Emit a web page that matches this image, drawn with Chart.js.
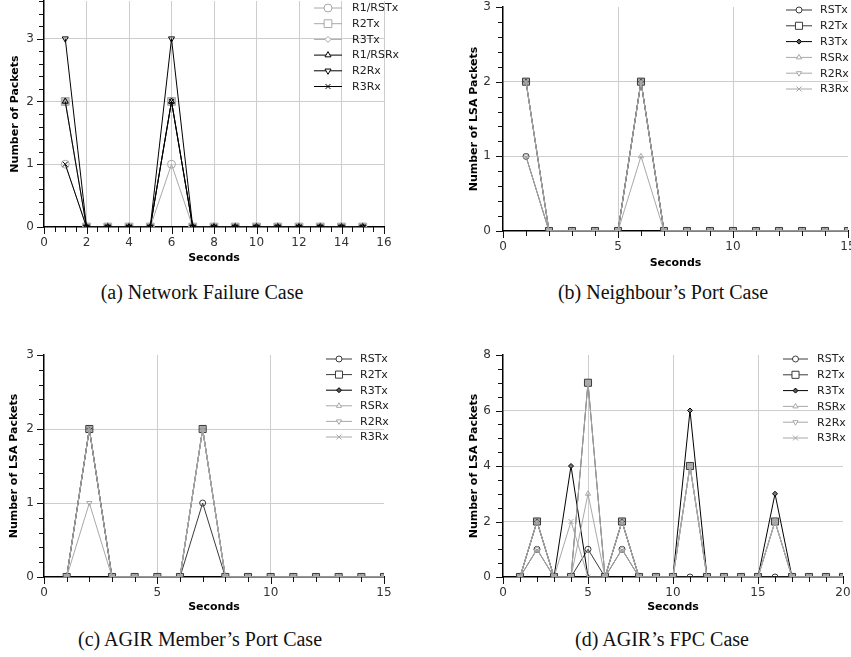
<!DOCTYPE html>
<html><head><meta charset="utf-8">
<script src="https://cdn.jsdelivr.net/npm/chart.js@4/dist/chart.umd.min.js"></script>
<style>
html,body{margin:0;padding:0;background:#fff;width:851px;height:657px;overflow:hidden;position:relative}
canvas{position:absolute}
.cap{position:absolute;font-family:'Liberation Serif',serif;font-size:20px;color:#111;text-align:center;white-space:nowrap;line-height:20px}
</style></head><body>
<canvas id="ca" width="420" height="272" style="left:0;top:0"></canvas>
<canvas id="cb" width="450" height="277" style="left:420px;top:0"></canvas>
<canvas id="cc" width="420" height="280" style="left:0;top:340px"></canvas>
<canvas id="cd" width="450" height="280" style="left:420px;top:340px"></canvas>
<div class="cap" style="left:0;width:404px;top:282px">(a) Network Failure Case</div>
<div class="cap" style="left:475px;width:376px;top:282px">(b) Neighbour’s Port Case</div>
<div class="cap" style="left:0;width:400px;top:629px">(c) AGIR Member’s Port Case</div>
<div class="cap" style="left:474px;width:376px;top:629px">(d) AGIR’s FPC Case</div>
<script>
// ---------- DATA ----------
const seriesNamesA = ['R1/RSTx','R2Tx','R3Tx','R1/RSRx','R2Rx','R3Rx'];
const seriesNamesBCD = ['RSTx','R2Tx','R3Tx','RSRx','R2Rx','R3Rx'];

// (a) Network Failure Case
const secondsA = [1,2,3,4,5,6,7,8,9,10,11,12,13,14,15];
const a_R1RSTx = [1,0,0,0,0,1,0,0,0,0,0,0,0,0,0];
const a_R2Tx   = [2,0,0,0,0,2,0,0,0,0,0,0,0,0,0];
const a_R3Tx   = [2,0,0,0,0,2,0,0,0,0,0,0,0,0,0];
const a_R1RSRx = [2,0,0,0,0,2,0,0,0,0,0,0,0,0,0];
const a_R2Rx   = [3,0,0,0,0,3,0,0,0,0,0,0,0,0,0];
const a_R3Rx   = [1,0,0,0,0,2,0,0,0,0,0,0,0,0,0];

// (b) Neighbour's Port Case
const secondsB = [1,2,3,4,5,6,7,8,9,10,11,12,13,14,15];
const b_RSTx = [1,0,0,0,0,2,0,0,0,0,0,0,0,0,0];
const b_R2Tx = [2,0,0,0,0,2,0,0,0,0,0,0,0,0,0];
const b_R3Tx = [2,0,0,0,0,2,0,0,0,0,0,0,0,0,0];
const b_RSRx = [1,0,0,0,0,1,0,0,0,0,0,0,0,0,0];
const b_R2Rx = [2,0,0,0,0,2,0,0,0,0,0,0,0,0,0];
const b_R3Rx = [2,0,0,0,0,2,0,0,0,0,0,0,0,0,0];

// (c) AGIR Member's Port Case
const secondsC = [1,2,3,4,5,6,7,8,9,10,11,12,13,14,15];
const c_RSTx = [0,2,0,0,0,0,1,0,0,0,0,0,0,0,0];
const c_R2Tx = [0,2,0,0,0,0,2,0,0,0,0,0,0,0,0];
const c_R3Tx = [0,2,0,0,0,0,2,0,0,0,0,0,0,0,0];
const c_RSRx = [0,2,0,0,0,0,2,0,0,0,0,0,0,0,0];
const c_R2Rx = [0,1,0,0,0,0,2,0,0,0,0,0,0,0,0];
const c_R3Rx = [0,2,0,0,0,0,2,0,0,0,0,0,0,0,0];

// (d) AGIR's FPC Case
const secondsD = [1,2,3,4,5,6,7,8,9,10,11,12,13,14,15,16,17,18,19,20];
const d_RSTx = [0,1,0,0,1,0,1,0,0,0,0,0,0,0,0,0,0,0,0,0];
const d_R2Tx = [0,2,0,0,7,0,2,0,0,0,4,0,0,0,0,2,0,0,0,0];
const d_R3Tx = [0,2,0,4,0,0,2,0,0,0,6,0,0,0,0,3,0,0,0,0];
const d_RSRx = [0,1,0,0,3,0,1,0,0,0,4,0,0,0,0,2,0,0,0,0];
const d_R2Rx = [0,2,0,0,7,0,2,0,0,0,4,0,0,0,0,2,0,0,0,0];
const d_R3Rx = [0,2,0,2,0,0,2,0,0,0,4,0,0,0,0,2,0,0,0,0];

// axis ranges / tick steps
const axisA = {x:{min:0,max:16,minor:0.5,major:2,gridAtMax:true}, y:{min:0,max:3.6,minor:0.2,major:1}};
const axisB = {x:{min:0,max:15,minor:1,major:5}, y:{min:0,max:3,minor:0.2,major:1}};
const axisC = {x:{min:0,max:15,minor:1,major:5}, y:{min:0,max:3,minor:0.2,major:1}};
const axisD = {x:{min:0,max:20,minor:1,major:5}, y:{min:0,max:8,minor:0.5,major:2}};

// ---------- STYLES ----------
const FONT = "'DejaVu Sans', sans-serif";
const GRAY = '#a8a8a8', DARK = '#3a3a3a', BLACK = '#000';
const stylesA = [
  {color:GRAY, style:'circle', r:4, fill:'rgba(255,255,255,0)', lfill:'#fff'},
  {color:GRAY, style:'rect', r:5.5, fill:'#c4c4c4', lfill:'#fff'},
  {color:GRAY, style:'rectRot', r:3, fill:'rgba(255,255,255,0)', lfill:'#fff'},
  {color:BLACK, style:'triangle', r:3.5, fill:'rgba(255,255,255,0)', lfill:'#fff'},
  {color:BLACK, style:'triangle', rot:180, r:3.5, fill:'rgba(255,255,255,0)', lfill:'#fff'},
  {color:BLACK, style:'crossRot', r:3.5, fill:'rgba(255,255,255,0)', lfill:'#fff'}
];
const stylesBCD = [
  {color:DARK, style:'circle', r:3, fill:'rgba(255,255,255,0)', lfill:'#fff'},
  {color:DARK, style:'rect', r:5, fill:'#b0b0b0', lfill:'#fff'},
  {color:BLACK, style:'rectRot', r:2.5, fill:'#777', lfill:'#555'},
  {color:GRAY, style:'triangle', r:3, fill:'rgba(255,255,255,0)', lfill:'#fff'},
  {color:GRAY, style:'triangle', rot:180, r:3, fill:'rgba(255,255,255,0)', lfill:'#fff'},
  {color:GRAY, style:'crossRot', r:3.5, fill:'rgba(255,255,255,0)', lfill:'#fff'}
];

function isMult(v, m){ return Math.abs(v/m - Math.round(v/m)) < 1e-6; }
function tickList(ax){ const out=[]; const n=Math.round((ax.max-ax.min)/ax.minor); for(let i=0;i<=n;i++){ out.push({value: Math.round((ax.min+i*ax.minor)*1000)/1000}); } return out; }
function gridColor(c, ax){
  const v = c.tick ? c.tick.value : null;
  if (v === null || v === undefined) return 'rgba(0,0,0,0)';
  if (!isMult(v, ax.major)) return 'rgba(0,0,0,0)';
  if (Math.abs(v-ax.min)<1e-6) return 'rgba(0,0,0,0)';
  if (Math.abs(v-ax.max)<1e-6 && !ax.gridAtMax) return 'rgba(0,0,0,0)';
  return '#cdcdcd';
}

function drawMarker(ctx, st, x, y, fill){
  const r = st.r;
  ctx.save();
  ctx.translate(x,y);
  ctx.rotate((st.rot||0)*Math.PI/180);
  ctx.strokeStyle = st.color; ctx.fillStyle = fill; ctx.lineWidth = 1;
  ctx.beginPath();
  if (st.style==='circle'){ ctx.arc(0,0,r,0,Math.PI*2); ctx.fill(); ctx.stroke(); }
  else if (st.style==='rect'){ const s=r*Math.SQRT1_2; ctx.rect(-s,-s,2*s,2*s); ctx.fill(); ctx.stroke(); }
  else if (st.style==='rectRot'){ ctx.moveTo(0,-r); ctx.lineTo(r,0); ctx.lineTo(0,r); ctx.lineTo(-r,0); ctx.closePath(); ctx.fill(); ctx.stroke(); }
  else if (st.style==='triangle'){ for(let k=0;k<3;k++){ const a=k*2*Math.PI/3; const px=Math.sin(a)*r, py=-Math.cos(a)*r; if(k===0) ctx.moveTo(px,py); else ctx.lineTo(px,py);} ctx.closePath(); ctx.fill(); ctx.stroke(); }
  else if (st.style==='crossRot'){ const s=r*Math.SQRT1_2; ctx.moveTo(-s,-s); ctx.lineTo(s,s); ctx.moveTo(s,-s); ctx.lineTo(-s,s); ctx.stroke(); }
  ctx.restore();
}

const lineLegend = {
  id:'lineLegend',
  afterDraw(chart, args, opts){
    if (!opts || opts.x0 === undefined) return;
    const ctx = chart.ctx;
    opts.styles.forEach((st,i)=>{
      const y = opts.y0 + i*opts.dy;
      ctx.save();
      ctx.strokeStyle = st.color; ctx.lineWidth = 1;
      ctx.beginPath(); ctx.moveTo(opts.x0,y); ctx.lineTo(opts.x1,y); ctx.stroke();
      drawMarker(ctx, st, (opts.x0+opts.x1)/2, y, st.lfill);
      ctx.fillStyle = '#222'; ctx.font = '11px ' + FONT; ctx.textBaseline = 'middle'; ctx.textAlign='left';
      ctx.fillText(opts.names[i], opts.textX, y+0.5);
      ctx.restore();
    });
    // outward tick marks at every scale tick (both axes), longer at labelled ticks
    const ca = chart.chartArea, xs = chart.scales.x, ys = chart.scales.y;
    const ax = opts.axis;
    ctx.save();
    ctx.strokeStyle = '#111'; ctx.lineWidth = 1;
    ctx.beginPath();
    for (const t of xs.ticks){ const L = isMult(t.value, ax.x.major) ? 7 : 5; const px = Math.round(xs.getPixelForValue(t.value)) + 0.5; ctx.moveTo(px, ca.bottom); ctx.lineTo(px, ca.bottom + L); }
    for (const t of ys.ticks){ const L = isMult(t.value, ax.y.major) ? 7 : 5; const py = Math.round(ys.getPixelForValue(t.value)) + 0.5; ctx.moveTo(ca.left - L, py); ctx.lineTo(ca.left, py); }
    ctx.stroke();
    ctx.restore();
  }
};

function makeChart(id, p){
  const datasets = p.values.map((vals,i)=>{
    const st = p.styles[i];
    return {
      label: p.names[i],
      data: p.seconds.map((s,j)=>({x:s, y:vals[j]})),
      borderColor: st.color, backgroundColor: st.color, borderWidth: 1,
      pointStyle: st.style, pointRotation: st.rot||0, pointRadius: st.r,
      pointBorderColor: st.color, pointBackgroundColor: st.fill, pointBorderWidth: 1,
      pointHoverRadius: st.r, tension: 0, order: -i
    };
  });
  const zeroPad = s => { s.paddingTop=0; s.paddingBottom=0; s.paddingLeft=0; s.paddingRight=0; };
  return new Chart(document.getElementById(id), {
    type:'line',
    data:{datasets},
    plugins:[lineLegend],
    options:{
      responsive:false, animation:false, devicePixelRatio:1,
      layout:{autoPadding:false, padding:p.pad},
      plugins:{legend:{display:false}, tooltip:{enabled:false},
        lineLegend:Object.assign({styles:p.styles, names:p.names, axis:p.axis}, p.legend)},
      scales:{
        x:{type:'linear', min:p.axis.x.min, max:p.axis.x.max,
          afterBuildTicks(s){ s.ticks = tickList(p.axis.x); },
          afterFit(s){ s.height = p.xH; zeroPad(s); },
          ticks:{autoSkip:false, maxRotation:0, padding:4, color:'#333', font:{family:FONT, size:12},
            callback:(v)=> isMult(v,p.axis.x.major) ? String(Math.round(v)) : ''},
          grid:{color:(c)=>gridColor(c,p.axis.x), tickColor:'rgba(0,0,0,0)', tickLength:5, lineWidth:1},
          border:{color:'#000', width:1.5},
          title:{display:true, text:'Seconds', color:'#000', font:{family:FONT, size:11, weight:'bold'}, padding:{top:0,bottom:p.xTitlePad}}
        },
        y:{type:'linear', min:p.axis.y.min, max:p.axis.y.max,
          afterBuildTicks(s){ s.ticks = tickList(p.axis.y); },
          afterFit(s){ s.width = p.yW; zeroPad(s); },
          ticks:{autoSkip:false, padding:p.yTickPad, color:'#333', font:{family:FONT, size:12},
            callback:(v)=> isMult(v,p.axis.y.major) ? String(Math.round(v)) : ''},
          grid:{color:(c)=>gridColor(c,p.axis.y), tickColor:'rgba(0,0,0,0)', tickLength:5, lineWidth:1},
          border:{color:'#000', width:1.5},
          title:{display:true, text:p.yTitle, color:'#000', font:{family:FONT, size:11, weight:'bold'}, padding:{top:p.yTitlePad,bottom:0}}
        }
      }
    }
  });
}

makeChart('ca', {
  seconds: secondsA, names: seriesNamesA, styles: stylesA, axis: axisA,
  values: [a_R1RSTx,a_R2Tx,a_R3Tx,a_R1RSRx,a_R2Rx,a_R3Rx],
  pad:{left:0,top:1,right:36,bottom:0}, yW:44, xH:45, xTitlePad:7, yTitlePad:9, yTickPad:5,
  yTitle:'Number of Packets',
  legend:{x0:314, x1:342, textX:352, y0:8, dy:15.7}
});
makeChart('cb', {
  seconds: secondsB, names: seriesNamesBCD, styles: stylesBCD, axis: axisB,
  values: [b_RSTx,b_R2Tx,b_R3Tx,b_RSRx,b_R2Rx,b_R3Rx],
  pad:{left:0,top:7,right:22,bottom:0}, yW:83, xH:46, xTitlePad:7, yTitlePad:48, yTickPad:7,
  yTitle:'Number of LSA Packets',
  legend:{x0:366, x1:392, textX:400, y0:10, dy:15.8}
});
makeChart('cc', {
  seconds: secondsC, names: seriesNamesBCD, styles: stylesBCD, axis: axisC,
  values: [c_RSTx,c_R2Tx,c_R3Tx,c_RSRx,c_R2Rx,c_R3Rx],
  pad:{left:0,top:15,right:36,bottom:0}, yW:44, xH:43, xTitlePad:6, yTitlePad:8, yTickPad:5,
  yTitle:'Number of LSA Packets',
  legend:{x0:326, x1:352, textX:360, y0:19, dy:15.6}
});
makeChart('cd', {
  seconds: secondsD, names: seriesNamesBCD, styles: stylesBCD, axis: axisD,
  values: [d_RSTx,d_R2Tx,d_R3Tx,d_RSRx,d_R2Rx,d_R3Rx],
  pad:{left:0,top:15,right:27,bottom:0}, yW:83, xH:43, xTitlePad:6, yTitlePad:48, yTickPad:7,
  yTitle:'Number of LSA Packets',
  legend:{x0:363, x1:388, textX:397, y0:19, dy:15.8}
});
</script>
</body></html>
